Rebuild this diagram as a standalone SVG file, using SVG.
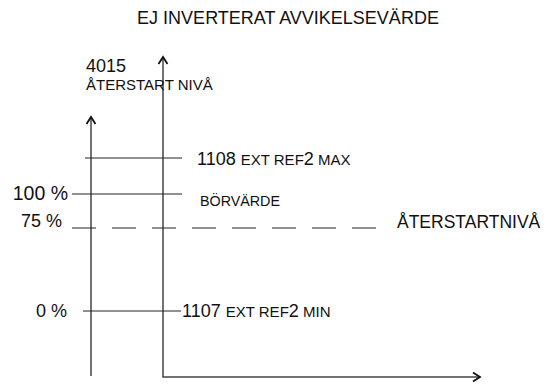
<svg xmlns="http://www.w3.org/2000/svg" width="550" height="385" viewBox="0 0 550 385">
<defs>
<style>
text{font-family:"Liberation Sans",Arial,sans-serif;fill:#111}
.big{font-size:18px}
.sc{font-size:15px}
.ln{stroke:#222;stroke-width:1;fill:none}
.ax{stroke:#444;stroke-width:1.5;fill:none}
</style>
<marker id="arr" markerUnits="userSpaceOnUse" viewBox="-9 -6 11 12" refX="0" refY="0" markerWidth="11" markerHeight="12" orient="auto-start-reverse">
<path d="M-7,-4.5 L0,0 L-7,4.5" fill="none" stroke="#111" stroke-width="1.8"/>
</marker>
</defs>
<rect width="550" height="385" fill="#fff"/>
<g id="connectors">
<line id="axis-left" class="ax" x1="91" y1="376" x2="91" y2="117" marker-end="url(#arr)"/>
<polyline id="axis-main" class="ax" points="163,57 163,377 480,377" marker-start="url(#arr)" marker-end="url(#arr)"/>
<line id="l1108" class="ln" x1="85" y1="158" x2="182" y2="158"/>
<line id="l100" class="ln" x1="72" y1="194" x2="182" y2="194"/>
<line id="l75" class="ln" x1="72" y1="228" x2="376" y2="228" stroke-dasharray="24 16"/>
<line id="l0" class="ln" x1="83" y1="311" x2="181" y2="311"/>
</g>
<g id="title"><text class="big" x="288" y="24" text-anchor="middle">EJ INVERTERAT AVVIKELSEVÄRDE</text></g>
<g id="ylabel">
<text class="big" x="86" y="72">4015</text>
<text class="sc" x="86" y="90">ÅTERSTART NIVÅ</text>
</g>
<g id="n1108"><text x="197" y="165"><tspan class="big">1108 </tspan><tspan class="sc">EXT REF</tspan><tspan class="big">2</tspan><tspan class="sc"> MAX</tspan></text></g>
<g id="n100"><text x="68" y="200" text-anchor="end" style="font-size:19.5px">100 %</text></g>
<g id="nborvarde"><text x="200" y="206" style="font-size:14.3px">BÖRVÄRDE</text></g>
<g id="n75"><text class="big" x="62" y="227" text-anchor="end">75 %</text></g>
<g id="nrestart"><text x="397" y="228" style="font-size:17.5px">ÅTERSTARTNIVÅ</text></g>
<g id="n0"><text class="big" x="67" y="317" text-anchor="end">0 %</text></g>
<g id="n1107"><text x="182" y="317"><tspan class="big">1107 </tspan><tspan class="sc">EXT REF</tspan><tspan class="big">2</tspan><tspan class="sc"> MIN</tspan></text></g>
</svg>
